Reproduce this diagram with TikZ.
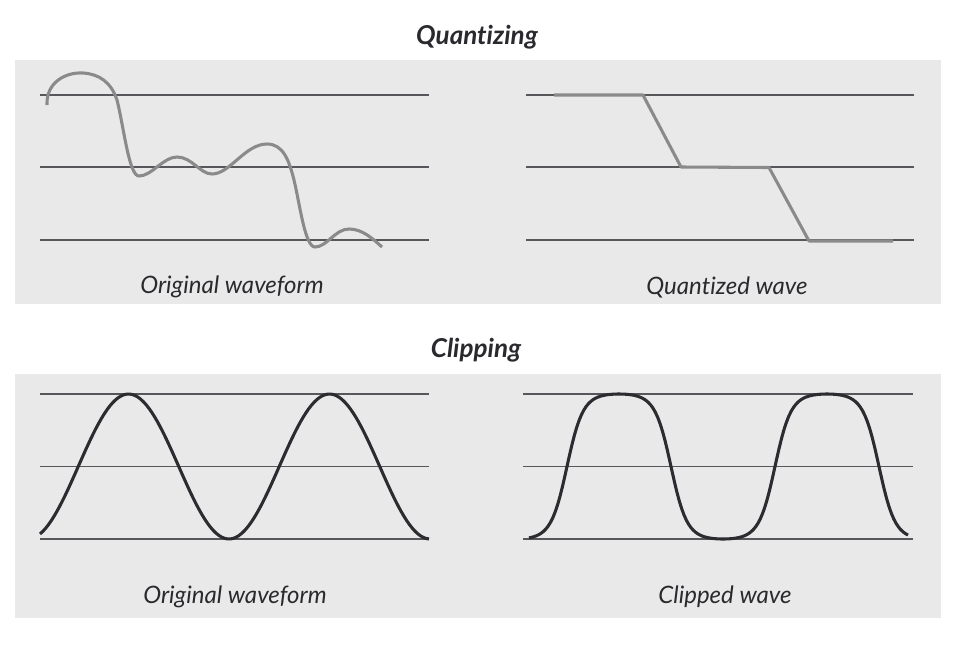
\documentclass[tikz,border=0pt]{standalone}
\usepackage{fontspec}
\setmainfont{Lato}[Ligatures={NoCommon}]
\usetikzlibrary{positioning}
\definecolor{panelgrey}{HTML}{E9E9E9}
\definecolor{levelgrey}{HTML}{55575A}
\definecolor{wavegrey}{HTML}{8A8A8A}
\definecolor{wavedark}{HTML}{2B2B30}
\definecolor{txtdark}{HTML}{2A2A2E}

\begin{document}
\begin{tikzpicture}[x=0.75pt,y=-0.75pt,
  panel/.style={fill=panelgrey},
  level/.style={levelgrey,line width=1.1pt},
  wavegr/.style={wavegrey,line width=2.3pt,line join=round},
  wavedk/.style={wavedark,line width=2.3pt,line join=round},
  ttl/.style={font=\fontsize{19.5}{22}\selectfont\bfseries\itshape,text=txtdark},
  lab/.style={font=\fontsize{18}{21}\selectfont\itshape,text=txtdark}]
\useasboundingbox (0,0) rectangle (964,654);
% two grey panels, one per row
\fill[panel] (15,60) rectangle (941,304);
\fill[panel] (15,374) rectangle (941,618);
% level lines (three per plot)
\foreach \y in {95,167,240}{
  \draw[level] (40,\y)--(429,\y);
  \draw[level] (526,\y)--(914,\y);}
\foreach \y in {394,466.5,539}{
  \draw[level] (40,\y)--(429,\y);
  \draw[level] (523,\y)--(913,\y);}
% row titles
\node[ttl] (quant) at (477,37) {Quantizing};
\node[ttl] (clip) at (476,350) {Clipping};
% quantizing: free waveform and stepped version
\draw[wavegr] (47,105) .. controls (46,82) and (66,72) .. (83,73)
  .. controls (99,74) and (111,82) .. (117,100)
  .. controls (124,128) and (129,176) .. (139,176)
  .. controls (152,176) and (163,157) .. (177,157)
  .. controls (192,157) and (200,174) .. (212,174)
  .. controls (230,174) and (245,144) .. (267,144)
  .. controls (283,144) and (289,160) .. (294,180)
  .. controls (300,205) and (305,247) .. (315,247)
  .. controls (327,247) and (335,229) .. (349,229)
  .. controls (362,229) and (372,238) .. (382,247);
\draw[wavegr] (554,95)--(643,95)--(681,167)--(769,167.5)--(809,241)--(893,241);
\node[lab] (origq) at (232,287) {Original waveform};
\node[lab] (quantw) at (727,287) {Quantized wave};
% clipping: full sine and the flattened one (degrees per px: 360/201, 360/208)
\draw[wavedk] plot[domain=40:429,samples=140] (\x,{466.5+72.5*cos(1.79104*(\x-28))});
\draw[wavedk] plot[domain=529:908,samples=160] (\x,{466.5-72.5*tanh(2*sin(1.730769*(\x-567)))/tanh(2)});
\node[lab] (origc) at (235,597) {Original waveform};
\node[lab] (clipw) at (725,597) {Clipped wave};
\end{tikzpicture}
\end{document}
